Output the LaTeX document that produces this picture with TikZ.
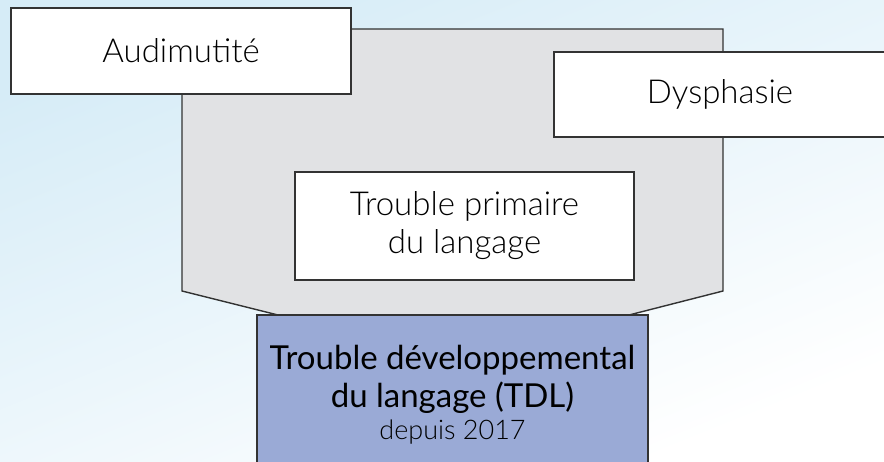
\documentclass[tikz,border=0pt]{standalone}
\usepackage{fontspec}
\setmainfont{Lato}[UprightFont={* Light}]
\newfontfamily\tdlfont{Lato}
\definecolor{bgblue}{HTML}{D6ECF7}
\definecolor{funnelgray}{HTML}{E1E2E4}
\definecolor{tdlblue}{HTML}{9AAAD6}
\definecolor{edge}{HTML}{333333}
\tikzset{
	box/.style = {draw = edge, line width = 1.4pt, fill = white, rectangle, align = center, inner sep = 0pt, font = \fontsize{33}{38}\selectfont},
}
\begin{document}
\begin{tikzpicture}[x = 1pt, y = -1pt]
				\useasboundingbox (0,0) rectangle (884,461);
				\shade[left color = bgblue, right color = white, shading angle = 22] (0,0) rectangle (884,461);
				
				\draw[draw = edge, line width = 1.4pt, fill = funnelgray] (182,29) -- (723,29) -- (723,291) -- (629,315) -- (278,315) -- (182,291) -- cycle;
				
				\node[box, minimum width = 340, minimum height = 86] (audi) at (181,51) {Audimutité};
				\node[box, minimum width = 332, minimum height = 85] (dys) at (720,94.5) {Dysphasie};
				\node[box, minimum width = 339, minimum height = 108] (tpl) at (464.5,226) {Trouble primaire\\du langage};
				\node[box, fill = tdlblue, minimum width = 391, minimum height = 160, font = \tdlfont\fontsize{33}{38}\selectfont] (tdl) at (452.5,395) {Trouble développemental\\du langage (TDL)\\[-6pt]{\rmfamily\fontsize{27}{30}\selectfont depuis 2017}};
			\end{tikzpicture}
\end{document}
